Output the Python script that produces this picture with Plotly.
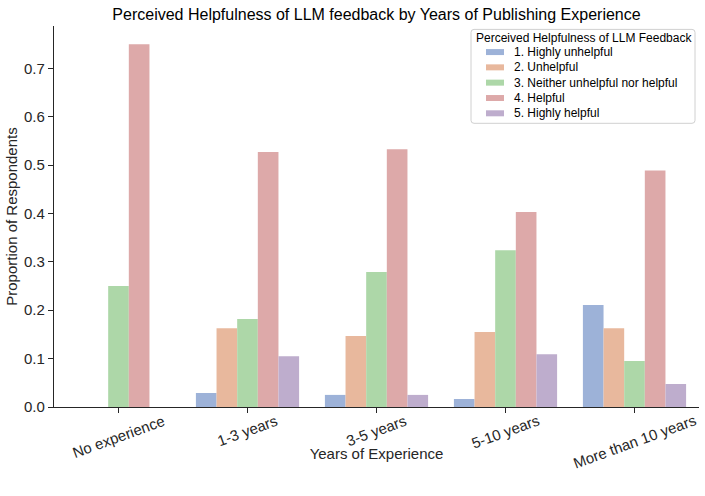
import plotly.graph_objects as go

categories = ["No experience", "1-3 years", "3-5 years", "5-10 years", "More than 10 years"]
series_names = ["1. Highly unhelpful", "2. Unhelpful", "3. Neither unhelpful nor helpful",
                "4. Helpful", "5. Highly helpful"]
highly_unhelpful = [0.0, 0.029, 0.025, 0.0165, 0.211]
unhelpful = [0.0, 0.163, 0.147, 0.155, 0.163]
neither = [0.25, 0.182, 0.279, 0.324, 0.095]
helpful = [0.75, 0.527, 0.533, 0.403, 0.489]
highly_helpful = [0.0, 0.105, 0.025, 0.109, 0.0475]
y_ticks = [0.0, 0.1, 0.2, 0.3, 0.4, 0.5, 0.6, 0.7]
legend_title = "Perceived Helpfulness of LLM Feedback"

series_values = [highly_unhelpful, unhelpful, neither, helpful, highly_helpful]
colors = ["#9db2d8", "#e8b89d", "#add7a8", "#dda9a9", "#beadcd"]

FONT = "Liberation Sans, Arial, sans-serif"
W, H = 705, 496
L, R, T, B = 54, 699, 25.6, 407  # plot area in pixels


def px(x):
    return (x - L) / (R - L)


def py(y):
    return (B - y) / (B - T)


fig = go.Figure()
for name, vals, c in zip(series_names, series_values, colors):
    fig.add_trace(go.Bar(x=list(range(len(categories))), y=vals, name=name,
                         marker=dict(color=c, line=dict(width=0)), showlegend=False,
                         hoverinfo="skip"))

# category labels (rotated, centred under each tick)
for i, cat in enumerate(categories):
    fig.add_annotation(x=i, y=0, xref="x", yref="paper", text=cat, showarrow=False,
                       textangle=-20, xanchor="center", yanchor="top", yshift=-2,
                       font=dict(size=15, color="#262626", family=FONT))

# legend box (rounded)
x0, x1, y0, y1, r = 471, 695, 29, 123, 3
path = (f"M {px(x0 + r)} {py(y0)} L {px(x1 - r)} {py(y0)} Q {px(x1)} {py(y0)} {px(x1)} {py(y0 + r)} "
        f"L {px(x1)} {py(y1 - r)} Q {px(x1)} {py(y1)} {px(x1 - r)} {py(y1)} "
        f"L {px(x0 + r)} {py(y1)} Q {px(x0)} {py(y1)} {px(x0)} {py(y1 - r)} "
        f"L {px(x0)} {py(y0 + r)} Q {px(x0)} {py(y0)} {px(x0 + r)} {py(y0)} Z")
fig.add_shape(type="path", path=path, xref="paper", yref="paper",
              fillcolor="rgba(255,255,255,0.8)", line=dict(color="#d0d0d0", width=1))
fig.add_annotation(x=px(474), y=py(38), xref="paper", yref="paper", text=legend_title,
                   showarrow=False, xanchor="left", yanchor="middle",
                   font=dict(size=12, color="#000000", family=FONT))
item_y = [51.7, 67, 82.3, 97.7, 113]
for name, c, yy in zip(series_names, colors, item_y):
    fig.add_shape(type="rect", xref="paper", yref="paper",
                  x0=px(486), x1=px(504), y0=py(yy - 3), y1=py(yy + 3),
                  fillcolor=c, line=dict(width=0))
    fig.add_annotation(x=px(512), y=py(yy), xref="paper", yref="paper", text=name,
                       showarrow=False, xanchor="left", yanchor="middle",
                       font=dict(size=12, color="#000000", family=FONT))

fig.update_layout(
    width=W, height=H,
    margin=dict(l=L, r=W - R, t=T, b=H - B, autoexpand=False),
    paper_bgcolor="white", plot_bgcolor="white",
    barmode="group", bargap=0.2, bargroupgap=0,
    font=dict(family=FONT, color="#262626"),
    showlegend=False,
    title=dict(text="Perceived Helpfulness of LLM feedback by Years of Publishing Experience",
               x=(L + R) / 2 / W, xanchor="center", y=1 - 14 / H, yanchor="middle",
               font=dict(size=16, color="#000000")),
    xaxis=dict(range=[-0.5, 4.5], tickmode="array", tickvals=list(range(len(categories))),
               showticklabels=False, ticks="outside", ticklen=5, tickcolor="#262626",
               showline=True, linecolor="#262626", linewidth=1.3, showgrid=False, zeroline=False,
               automargin=False,
               title=dict(text="Years of Experience", font=dict(size=15, color="#262626"), standoff=36)),
    yaxis=dict(range=[0, 0.7875], tickmode="array", tickvals=y_ticks,
               ticktext=[f"{v:.1f}" for v in y_ticks], ticks="outside", ticklen=5,
               tickcolor="#262626", tickfont=dict(size=15, color="#262626"),
               showline=True, linecolor="#262626", linewidth=1.3, showgrid=False, zeroline=False,
               automargin=False,
               title=dict(text="Proportion of Respondents", font=dict(size=15, color="#262626"), standoff=2)),
)

fig.write_html("out.html", config={"displayModeBar": False},
               post_script="document.body.style.margin='0';document.body.style.padding='0';")
